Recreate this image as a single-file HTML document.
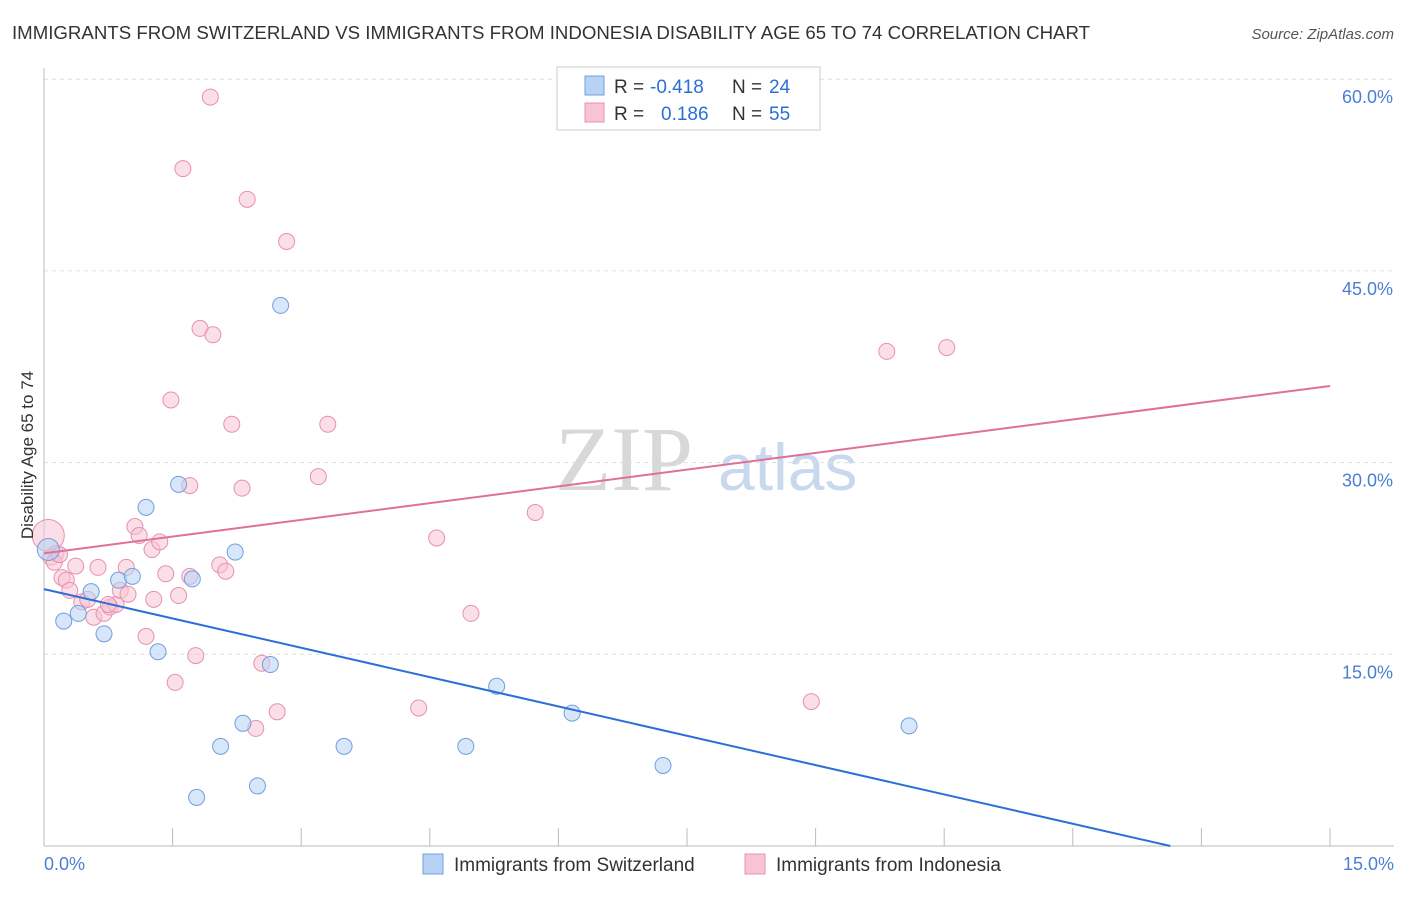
<!DOCTYPE html>
<html><head><meta charset="utf-8"><style>
body{margin:0;background:#fff;font-family:"Liberation Sans",sans-serif}
</style></head><body>
<svg id="c" width="1406" height="892" xmlns="http://www.w3.org/2000/svg" style="font-family:'Liberation Sans',sans-serif">
<text x="12" y="39" font-size="18" fill="#333" textLength="1078" lengthAdjust="spacingAndGlyphs">IMMIGRANTS FROM SWITZERLAND VS IMMIGRANTS FROM INDONESIA DISABILITY AGE 65 TO 74 CORRELATION CHART</text>
<text x="1394" y="39" font-size="15" fill="#555" font-style="italic" text-anchor="end">Source: ZipAtlas.com</text>
<text x="555" y="490" font-size="92" fill="#d8d8d8" font-family="Liberation Serif">ZIP</text>
<text x="718" y="490" font-size="66" fill="#c8d8ee">atlas</text>
<g id="grid"></g><g id="axes"></g><g id="pts"></g><g id="lines"></g>
<text transform="translate(33,455) rotate(-90)" font-size="17" fill="#333" text-anchor="middle">Disability Age 65 to 74</text>
<g>
<rect x="557" y="67" width="263" height="63" fill="#fff" stroke="#ccc"/>
<rect x="585" y="76" width="19" height="19" fill="#b8d2f4" stroke="#6f9fe0"/>
<rect x="585" y="103" width="19" height="19" fill="#f8c4d4" stroke="#e890ae"/>
<text x="614" y="93" font-size="19" fill="#333">R =</text>
<text x="650" y="93" font-size="19" fill="#2b6fd6">-0.418</text>
<text x="732" y="93" font-size="19" fill="#333">N =</text>
<text x="769" y="93" font-size="19" fill="#2b6fd6">24</text>
<text x="614" y="120" font-size="19" fill="#333">R =</text>
<text x="661" y="120" font-size="19" fill="#2b6fd6">0.186</text>
<text x="732" y="120" font-size="19" fill="#333">N =</text>
<text x="769" y="120" font-size="19" fill="#2b6fd6">55</text>
</g>
<g>
<rect x="423" y="854" width="20" height="20" fill="#b8d2f4" stroke="#6f9fe0"/>
<text x="454" y="871" font-size="19" fill="#333">Immigrants from Switzerland</text>
<rect x="745" y="854" width="20" height="20" fill="#f8c4d4" stroke="#e890ae"/>
<text x="776" y="871" font-size="19" fill="#333">Immigrants from Indonesia</text>
</g>
</svg>
<script>
const yTicks=[15,30,45,60];
const yTickLabels=["15.0%","30.0%","45.0%","60.0%"];
const xTickLabels=["0.0%","15.0%"];
const blueX=[0.05,0.23,0.40,0.55,0.70,0.87,1.03,1.19,1.33,1.57,1.73,1.78,2.06,2.23,2.32,2.49,2.64,2.76,3.50,4.92,5.28,6.16,7.22,10.09];
const blueY=[23.2,17.6,18.2,19.9,16.6,20.8,21.1,26.5,15.2,28.3,20.9,3.8,7.8,23.0,9.6,4.7,14.2,42.3,7.8,7.8,12.5,10.4,6.3,9.4];
const pinkX=[0.05,0.14,0.21,0.26,0.30,0.37,0.44,0.51,0.58,0.63,0.70,0.77,0.84,0.89,0.96,0.98,1.06,1.11,1.19,1.26,1.28,1.35,1.42,1.48,1.53,1.57,1.62,1.70,1.70,1.77,1.82,1.94,1.97,2.05,2.12,2.19,2.31,2.37,2.47,2.54,2.72,2.83,3.20,3.31,4.37,4.58,4.98,5.73,8.95,9.83,10.53,0.08,0.12,0.18,0.75];
const pinkY=[24.3,22.9,21.0,20.8,20.0,21.9,19.1,19.3,17.9,21.8,18.2,18.7,18.9,20.0,21.8,19.7,25.0,24.3,16.4,23.2,19.3,23.8,21.3,34.9,12.8,19.6,53.0,28.2,21.1,14.9,40.5,58.6,40.0,22.0,21.5,33.0,28.0,50.6,9.2,14.3,10.5,47.3,28.9,33.0,10.8,24.1,18.2,26.1,11.3,38.7,39.0,22.6,22.2,22.8,18.9];
const blueTrend=[20.1,-1.53];
const pinkTrend=[22.9,0.873];
const X=v=>44+v/15*1286, Y=v=>846-v/15*191.7;
const NS="http://www.w3.org/2000/svg";
function mk(t,a,p){const e=document.createElementNS(NS,t);for(const k in a)e.setAttribute(k,a[k]);document.getElementById(p).appendChild(e);return e;}
yTicks.forEach((t,i)=>{
 const g=mk('line',{x1:44,x2:1394,y1:Y(t),y2:Y(t),stroke:'#ddd','stroke-dasharray':'4,4'},'grid');
 
 
 const l=mk('text',{x:1393,y:Y(t)+24,'font-size':18,fill:'#4a7fd4','text-anchor':'end'},'axes');
 l.textContent=yTickLabels[i];
 
 
});
const ax=mk('line',{x1:44,x2:1394,y1:846,y2:846,stroke:'#bbb'},'axes');


const ay=mk('line',{x1:44,x2:44,y1:68,y2:846,stroke:'#bbb'},'axes');


for(let i=0;i<=10;i++){const t=mk('line',{x1:X(i*1.5),x2:X(i*1.5),y1:828,y2:846,stroke:'#bbb'},'axes');
 
 }
[[44,'start',0],[1394,'end',1]].forEach(([x,a,i])=>{const l=mk('text',{x:x,y:870,'font-size':18,fill:'#4a7fd4','text-anchor':a},'axes');l.textContent=xTickLabels[i];
 
 });
function dots(xs,ys,f,s,n){xs.forEach((x,i)=>{const r=(i==0&&n=='pink-point')?16:(i==0?11:8);
 const c=mk('circle',{cx:X(x),cy:Y(ys[i]),r:r,fill:f,'fill-opacity':0.55,stroke:s,'stroke-width':1},'pts');
 
 });}
dots(pinkX,pinkY,'#f8c4d4','#e890ae','pink-point');
dots(blueX,blueY,'#b8d2f4','#6f9fe0','blue-point');
const bx1=Math.min(15,-blueTrend[0]/blueTrend[1]);
const bl=mk('line',{x1:X(0),y1:Y(blueTrend[0]),x2:X(bx1),y2:Y(blueTrend[0]+blueTrend[1]*bx1),stroke:'#2b6fd6','stroke-width':2},'lines');


const pl=mk('line',{x1:X(0),y1:Y(pinkTrend[0]),x2:X(15),y2:Y(pinkTrend[0]+pinkTrend[1]*15),stroke:'#e0709a','stroke-width':2},'lines');


</script>
</body></html>
